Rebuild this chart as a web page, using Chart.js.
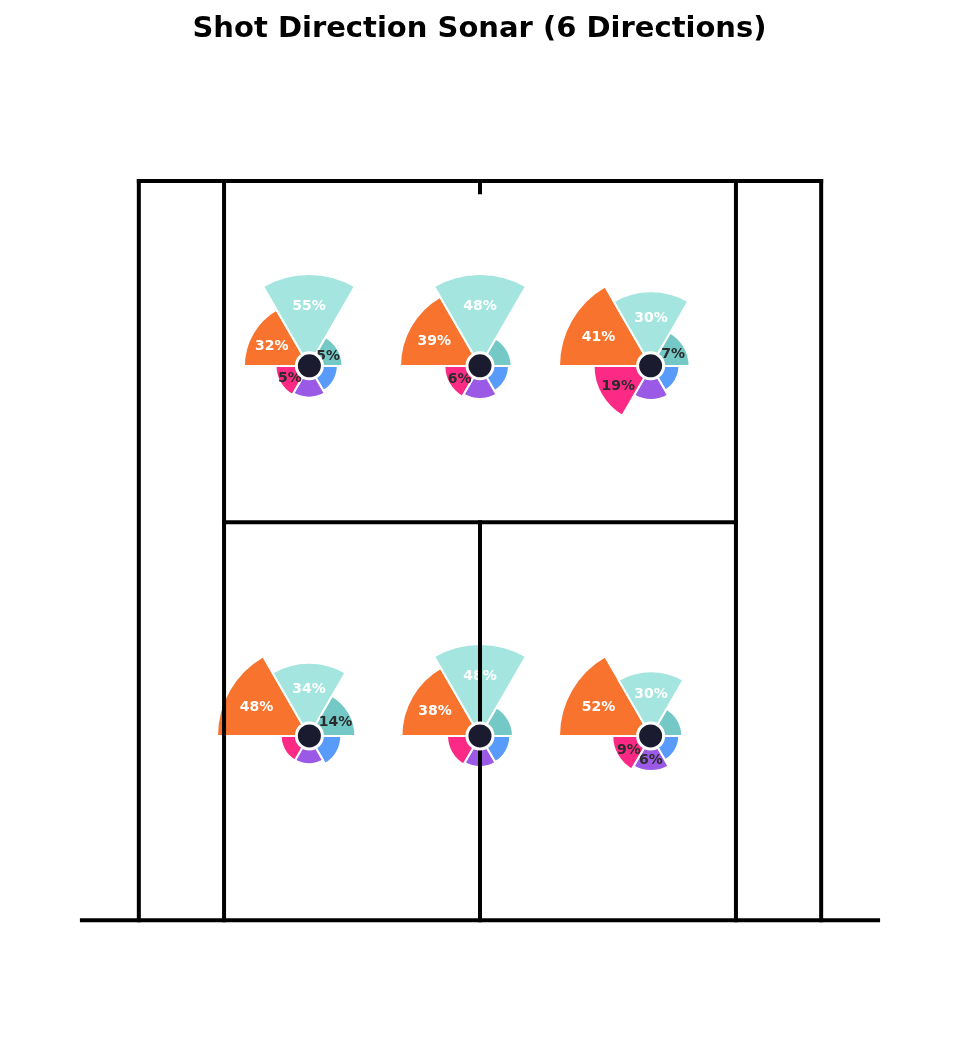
<!DOCTYPE html>
<html>
<head>
<meta charset="utf-8">
<title>Shot Direction Sonar</title>
<script src="https://cdn.jsdelivr.net/npm/chart.js@4.4.1/dist/chart.umd.min.js"></script>
<style>
  html, body { margin: 0; padding: 0; background: #fff; }
  #wrap { position: relative; width: 959px; height: 1059px; }
  #court { position: absolute; left: 0; top: 0; z-index: 2; }
  .sonar { position: absolute; z-index: 1; }
</style>
</head>
<body>
<div id="wrap">
  <canvas id="court" width="959" height="1059"></canvas>
</div>
<script>
// 6 directions, 60 degree sectors going clockwise from the left
const directions = ["Left", "Forward", "Right", "Back Right", "Back", "Back Left"];
const dirColors = ["#F7732E", "#A4E6DF", "#74C8C6", "#589BFA", "#9A5AE6", "#FC2A85"];

// centre of each zone's sonar, metres (x from centre line, y from net)
const zoneX = [-2.743, 0, 2.743, -2.743, 0, 2.743];
const zoneY = [8.915, 8.915, 8.915, 2.965, 2.965, 2.965];

// % of shots per direction in each zone
const zone1 = [32, 55, 5, 1, 3.5, 5];
const zone2 = [39, 48, 3, 1, 4, 6];
const zone3 = [41, 30, 7, 0.5, 4, 19];
const zone4 = [48, 34, 14, 3.5, 0.5, 0.5];
const zone5 = [38, 48, 4, 2, 2.5, 4];
const zone6 = [52, 30, 3, 0.5, 6, 9];
const zoneValues = [zone1, zone2, zone3, zone4, zone5, zone6];

// court dimensions (metres)
const halfDoubles = 5.485;
const halfSingles = 4.115;
const baseline = 11.885;
const serviceLine = 6.40;
const netHalf = 6.4;
const centreMark = 0.18;

// [x1, y1, x2, y2]
const courtLines = [
  [-netHalf, 0, netHalf, 0],
  [-halfDoubles, 0, -halfDoubles, baseline],
  [halfDoubles, 0, halfDoubles, baseline],
  [-halfSingles, 0, -halfSingles, baseline],
  [halfSingles, 0, halfSingles, baseline],
  [-halfDoubles, baseline, halfDoubles, baseline],
  [-halfSingles, serviceLine, halfSingles, serviceLine],
  [0, 0, 0, serviceLine],
  [0, baseline, 0, baseline - centreMark],
];

// page layout: pixels per metre and where the net / centre line sit
const PX_PER_M = 62.2;
const NET_PX = 920.3;
const MID_PX = 480;

const courtChart = new Chart(document.getElementById("court"), {
  type: "scatter",
  data: {
    datasets: [
      {
        data: zoneX.map((x, i) => ({ x: x, y: zoneY[i] })),
        pointRadius: 13,
        pointHoverRadius: 13,
        pointBackgroundColor: "#1B1B2F",
        pointBorderColor: "#ffffff",
        pointBorderWidth: 3,
        showLine: false,
        clip: false,
      },
      ...courtLines.map((l) => ({
        data: [{ x: l[0], y: l[1] }, { x: l[2], y: l[3] }],
        showLine: true,
        borderColor: "#000000",
        borderWidth: 4,
        borderCapStyle: "square",
        pointRadius: 0,
        clip: false,
      })),
    ],
  },
  options: {
    responsive: false,
    animation: false,
    events: [],
    layout: { padding: 0 },
    plugins: {
      legend: { display: false },
      tooltip: { enabled: false },
      title: {
        display: true,
        text: "Shot Direction Sonar (6 Directions)",
        color: "#000000",
        font: { family: "'DejaVu Sans'", size: 29, weight: "bold" },
        padding: { top: 12, bottom: 0 },
      },
    },
    scales: {
      x: { type: "linear", display: false, min: -8, max: 8 },
      y: { type: "linear", display: false, min: -2, max: 14 },
    },
  },
});

// fit the axis ranges so the court is drawn to scale
const area = courtChart.chartArea;
courtChart.options.scales.x.min = (area.left - MID_PX) / PX_PER_M;
courtChart.options.scales.x.max = (area.right - MID_PX) / PX_PER_M;
courtChart.options.scales.y.max = (NET_PX - area.top) / PX_PER_M;
courtChart.options.scales.y.min = (NET_PX - area.bottom) / PX_PER_M;
courtChart.update("none");

// percentage labels inside the wedges
const sonarLabels = {
  id: "sonarLabels",
  afterDatasetsDraw(chart) {
    const ctx = chart.ctx;
    const values = chart.data.datasets[0].data;
    chart.getDatasetMeta(0).data.forEach((arc, i) => {
      const v = values[i];
      if (Math.round(v) < 5) return;
      const mid = (arc.startAngle + arc.endAngle) / 2;
      const r = arc.outerRadius * 0.66;
      ctx.save();
      ctx.font = "bold 14px 'DejaVu Sans'";
      ctx.fillStyle = v > 20 ? "#ffffff" : "#2b2b2b";
      ctx.textAlign = "center";
      ctx.textBaseline = "alphabetic";
      // centre the digits (cap height ~10px) on the label point
      ctx.fillText(Math.round(v) + "%", arc.x + Math.cos(mid) * r, arc.y + Math.sin(mid) * r + 5);
      ctx.restore();
    });
  },
};

const wrap = document.getElementById("wrap");
zoneValues.forEach((values, i) => {
  const canvas = document.createElement("canvas");
  canvas.className = "sonar";
  canvas.width = 200;
  canvas.height = 200;
  const px = courtChart.scales.x.getPixelForValue(zoneX[i]);
  const py = courtChart.scales.y.getPixelForValue(zoneY[i]);
  canvas.style.left = Math.round(px - 100) + "px";
  canvas.style.top = Math.round(py - 100) + "px";
  wrap.appendChild(canvas);

  // longest wedge gets the full radius, an empty one still gets 30%
  const maxVal = Math.max(...values);
  new Chart(canvas, {
    type: "polarArea",
    data: {
      labels: directions,
      datasets: [
        {
          data: values,
          backgroundColor: dirColors,
          borderColor: "#ffffff",
          borderWidth: 2,
        },
      ],
    },
    options: {
      responsive: false,
      animation: false,
      events: [],
      layout: { padding: 8 },
      plugins: {
        legend: { display: false },
        tooltip: { enabled: false },
      },
      scales: {
        r: {
          display: false,
          min: -maxVal * 0.3 / 0.7,
          max: maxVal,
          startAngle: 270,
          ticks: { display: false },
        },
      },
    },
    plugins: [sonarLabels],
  });
});
</script>
</body>
</html>
